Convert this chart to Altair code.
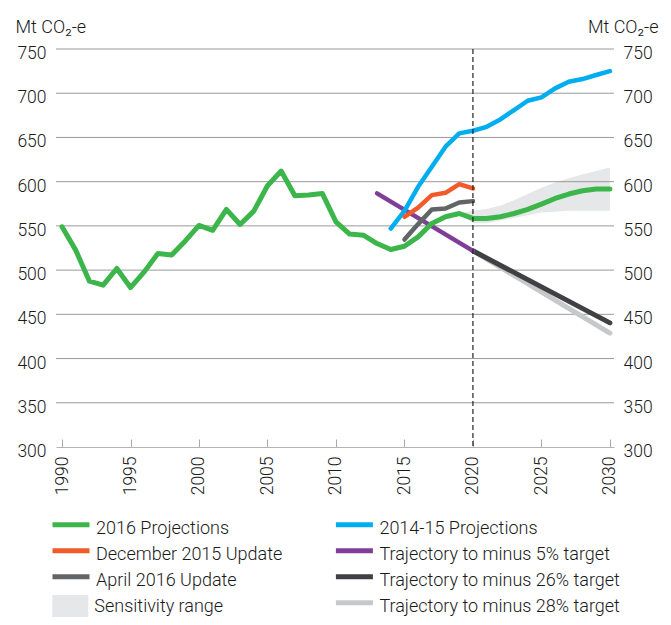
import altair as alt
import pandas as pd

# ---------------- data ----------------
years_2016 = list(range(1990, 2031))
proj_2016 = [549, 522.6, 487.5, 483, 501.8, 480.3, 498, 518.8, 517, 533,
             550.5, 545, 568.6, 551.6, 566.7, 595.4, 612, 584, 585, 586.7,
             554.6, 540.7, 539.5, 530, 523.3, 527, 537.6, 552.7, 560.3, 564,
             558.4, 558.4, 560.3, 564, 568.6, 574.6, 581, 586, 589.7, 591.6,
             591.6]

years_1415 = list(range(2014, 2031))
proj_1415 = [547, 567, 594.2, 616.9, 639.5, 654.6, 657.6, 662, 670.4, 681,
             691.5, 695.3, 705.5, 713, 716, 720.6, 725]

years_upd = list(range(2015, 2021))
dec_2015 = [560.3, 570.6, 584.8, 587.4, 597.2, 592.3]
apr_2016 = [534.6, 552, 568.6, 569.7, 576.5, 578]

years_traj5 = [2013, 2020]
traj_5 = [586.7, 521.8]
years_traj_post = [2020, 2030]
traj_26 = [521.8, 440.3]
traj_28 = [521.8, 428.8]

years_band = list(range(2019, 2031))
band_lo = [564, 553, 553, 556, 559, 562, 565, 566, 567, 567, 567, 567]
band_hi = [564, 567, 569, 573, 579, 586, 593, 599, 604, 608, 612, 616]

target_year = [2020]
y_ticks = [300, 350, 400, 450, 500, 550, 600, 650, 700, 750]
x_ticks = [1990, 1995, 2000, 2005, 2010, 2015, 2020, 2025, 2030]

col1_names = ["2016 Projections", "December 2015 Update", "April 2016 Update"]
col1_colors = ["#3cb54a", "#f15a2b", "#636466"]
col2_names = ["2014-15 Projections", "Trajectory to minus 5% target",
              "Trajectory to minus 26% target", "Trajectory to minus 28% target"]
col2_colors = ["#00aeef", "#7f3f98", "#414042", "#c7c8ca"]
band_name = "Sensitivity range"
band_color = "#e6e7e8"

# ---------------- tables ----------------
rows = []
def add(name, xs, ys):
    for x, y in zip(xs, ys):
        rows.append({"series": name, "year": x, "value": y})

add(col1_names[0], years_2016, proj_2016)
add(col1_names[1], years_upd, dec_2015)
add(col1_names[2], years_upd, apr_2016)
add(col2_names[0], years_1415, proj_1415)
add(col2_names[1], years_traj5, traj_5)
add(col2_names[2], years_traj_post, traj_26)
add(col2_names[3], years_traj_post, traj_28)
lines = pd.DataFrame(rows)

band = pd.DataFrame({"year": years_band, "lo": band_lo, "hi": band_hi,
                     "series": band_name})
grid = pd.DataFrame({"v": y_ticks[1:]})
target = pd.DataFrame({"year": target_year})

FONT = "Roboto"
WEIGHT = 300
TXT = "#1a1a1a"

xscale = alt.Scale(domain=[1989.56, 2030.3], nice=False, zero=False)
yscale = alt.Scale(domain=[300, 750], nice=False, zero=False)

line_symbol = "M-1,-0.2L1,-0.2"

def line_legend(x):
    return alt.Legend(orient="none", legendX=x, legendY=469.5, direction="vertical",
                      title=None, symbolType=line_symbol, symbolSize=1369,
                      symbolStrokeWidth=5, clipHeight=20, rowPadding=6,
                      labelOffset=4, labelFontSize=18, labelFont=FONT,
                      labelFontWeight=WEIGHT,
                      labelColor=TXT, padding=0, labelLimit=0)

col1_scale = alt.Scale(domain=col1_names, range=col1_colors)
col2_scale = alt.Scale(domain=col2_names, range=col2_colors)

# ---------------- layers ----------------
band_layer = alt.Chart(band).mark_area(opacity=1).encode(
    x=alt.X("year:Q", scale=xscale,
            axis=alt.Axis(orient="bottom", values=x_ticks, format="d",
                          labelAngle=270, labelPadding=9, ticks=False,
                          domain=True, domainColor="#b5b5b5", domainWidth=1,
                          grid=False, title=None)),
    y=alt.Y("lo:Q", scale=yscale,
            axis=alt.Axis(orient="left", values=y_ticks, grid=False, ticks=False,
                          domain=False, labelPadding=10, labelOffset=4.5,
                          title="Mt CO₂-e", titleAngle=0, titleAlign="left",
                          titleBaseline="alphabetic", titleX=-41, titleY=-17)),
    y2="hi:Q",
    fill=alt.Fill("series:N", scale=alt.Scale(domain=[band_name], range=[band_color]),
                  legend=alt.Legend(orient="none", legendX=-3.7, legendY=539.5,
                                    title=None,
                                    symbolType="M-1,-0.64L1,-0.64L1,0.64L-1,0.64Z",
                                    symbolSize=1296, symbolStrokeWidth=0,
                                    symbolOpacity=1, labelOffset=6,
                                    labelFontSize=18, labelFont=FONT,
                                    labelFontWeight=WEIGHT,
                                    labelColor=TXT, padding=0)),
)

grid_layer = alt.Chart(grid).mark_rule(color="#9a9a9a", strokeWidth=1).encode(
    y=alt.Y("v:Q", scale=yscale, axis=None)
)

def col2_line(name, width, axis=None):
    return alt.Chart(lines).transform_filter(alt.datum.series == name).mark_line(
        strokeWidth=width, strokeCap="round", strokeJoin="round"
    ).encode(
        x=alt.X("year:Q", scale=xscale, axis=axis),
        y=alt.Y("value:Q", scale=yscale, axis=None),
        stroke=alt.Stroke("series:N", scale=col2_scale, legend=line_legend(277.4)),
    )

def col1_line(name, width, yaxis=None):
    return alt.Chart(lines).transform_filter(alt.datum.series == name).mark_line(
        strokeWidth=width, strokeCap="round", strokeJoin="round"
    ).encode(
        x=alt.X("year:Q", scale=xscale, axis=None),
        y=alt.Y("value:Q", scale=yscale, axis=yaxis),
        color=alt.Color("series:N", scale=col1_scale, legend=line_legend(-6)),
    )

tick_axis = alt.Axis(orient="bottom", values=x_ticks, labels=False, domain=False,
                     grid=False, ticks=True, tickSize=8, tickColor="#aaaaaa",
                     tickWidth=1, offset=-8, title=None)

right_axis = alt.Axis(orient="right", values=y_ticks, grid=False, ticks=False,
                      domain=False, labelPadding=9, labelOffset=4.5,
                      title="Mt CO₂-e", titleAngle=0, titleAlign="right",
                      titleBaseline="alphabetic", titleX=44, titleY=-17)

l28 = col2_line(col2_names[3], 5, axis=tick_axis)
l26 = col2_line(col2_names[2], 5)
l5 = col2_line(col2_names[1], 4.5)
l1415 = col2_line(col2_names[0], 4.5)
lapr = col1_line(col1_names[2], 4.5)
ldec = col1_line(col1_names[1], 4.5)
l2016 = col1_line(col1_names[0], 5, yaxis=right_axis)

target_layer = alt.Chart(target).mark_rule(
    strokeDash=[5, 3], strokeWidth=1.2, color="#231f20"
).encode(x=alt.X("year:Q", scale=xscale, axis=None))

chart = alt.layer(
    band_layer, grid_layer, l28, l26, l5, l1415, lapr, ldec, l2016, target_layer
).resolve_axis(
    x="independent", y="independent"
).properties(
    width=558, height=398,
    autosize=alt.AutoSizeParams(type="none"),
    padding={"left": 48, "top": 41, "right": 49, "bottom": 170},
).configure_view(
    stroke=None
).configure_axis(
    labelFont=FONT, labelFontSize=17.5, labelColor=TXT, labelFontWeight=WEIGHT,
    titleFont=FONT, titleFontSize=18, titleFontWeight=WEIGHT, titleColor=TXT,
)

chart.save("out.html", embed_options={"renderer": "svg", "actions": False})
